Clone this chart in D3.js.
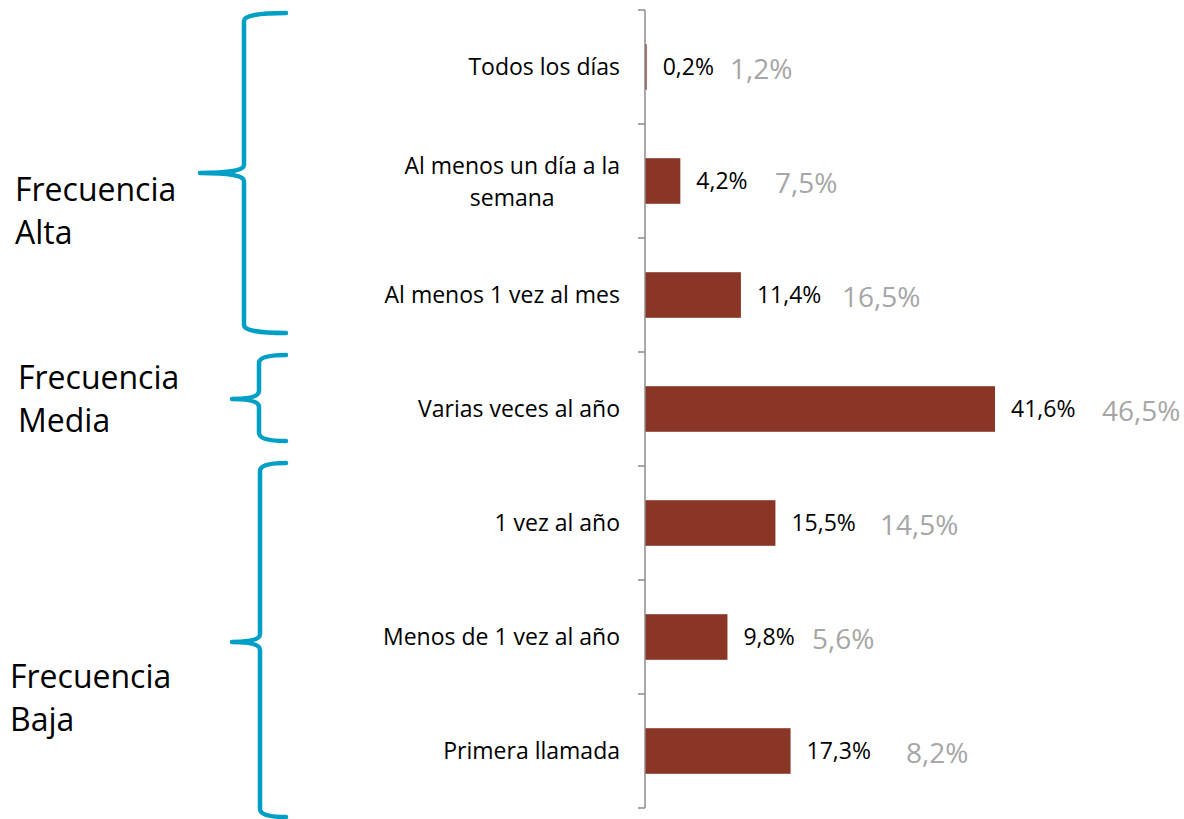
<!DOCTYPE html>
<html><head><meta charset="utf-8">
<script src="https://cdn.jsdelivr.net/npm/d3@7"></script>
<style>body{margin:0;background:#fff}</style>
</head><body>
<script>
const categories = ["Todos los días","Al menos un día a la semana","Al menos 1 vez al mes","Varias veces al año","1 vez al año","Menos de 1 vez al año","Primera llamada"];
const values = [0.2, 4.2, 11.4, 41.6, 15.5, 9.8, 17.3];
const compareValues = [1.2, 7.5, 16.5, 46.5, 14.5, 5.6, 8.2];
const groupLabels = [["Frecuencia","Alta"],["Frecuencia","Media"],["Frecuencia","Baja"]];

// layout (not data)
const compareLabelX = [730, 775, 842, 1102, 880, 812, 906];
const wrapLines = {"Al menos un día a la semana":["Al menos un día a la","semana"]};
const font = "'Open Sans', sans-serif";
const catSize = 23, valSize = 23, cmpSize = 28, grpSize = 32;

const W=1184,H=819;
const svg=d3.select("body").append("svg").attr("width",W).attr("height",H);
const x0=645;
const x=d3.scaleLinear().domain([0,41.6]).range([x0,995]);
const y=d3.scaleBand().domain(categories).range([10,808]).paddingInner(0.6).paddingOuter(0.3);

// bars
svg.selectAll("rect.bar").data(values).join("rect").attr("class","bar")
  .attr("x",x(0)).attr("y",(d,i)=>y(categories[i]))
  .attr("width",d=>x(d)-x(0)).attr("height",y.bandwidth())
  .attr("fill","#893626");

// axis
const ag=svg.append("g").attr("transform",`translate(${x0},0)`);
ag.append("line").attr("x1",0).attr("x2",0).attr("y1",10).attr("y2",808).attr("stroke","#8c8c8c").attr("stroke-width",1.5);
d3.range(categories.length+1).forEach(i=>{
  const yy=10+i*(798/categories.length);
  ag.append("line").attr("x1",-7).attr("x2",0).attr("y1",yy).attr("y2",yy).attr("stroke","#8c8c8c").attr("stroke-width",1.5);
});

// category labels
categories.forEach((c,i)=>{
  const cy=y(c)+y.bandwidth()/2;
  const lines=wrapLines[c]||[c];
  const t=svg.append("text").attr("font-family",font).attr("font-size",catSize).attr("fill","#000");
  if(lines.length===1){
    t.attr("x",620).attr("y",cy).attr("dy","0.35em").attr("text-anchor","end").text(c);
  } else {
    t.attr("text-anchor","middle");
    const tmp=svg.append("text").attr("font-family",font).attr("font-size",catSize).text(lines[0]);
    const w=tmp.node().getComputedTextLength(); tmp.remove();
    const cx=620-w/2;
    lines.forEach((l,k)=>{
      t.append("tspan").attr("x",cx).attr("y",cy+1+(k-(lines.length-1)/2)*32).attr("dy","0.35em").text(l);
    });
  }
});

// value labels
const fmt=d=>d3.format(".1f")(d).replace(".",",")+"%";
svg.selectAll("text.val").data(values).join("text").attr("class","val")
  .attr("x",d=>x(d)+16).attr("y",(d,i)=>y(categories[i])+y.bandwidth()/2).attr("dy","0.35em")
  .attr("font-family",font).attr("font-size",valSize).attr("fill","#000")
  .text(fmt);
svg.selectAll("text.cmp").data(compareValues).join("text").attr("class","cmp")
  .attr("x",(d,i)=>compareLabelX[i]).attr("y",(d,i)=>y(categories[i])+y.bandwidth()/2+2).attr("dy","0.35em")
  .attr("font-family",font).attr("font-size",cmpSize).attr("fill","#a6a6a6")
  .text(fmt);

// braces
const braceGeom=[{top:13,bot:333,vx:244,tipx:200,mid:173},{top:355,bot:441,vx:259,tipx:232,mid:399},{top:463,bot:817,vx:260,tipx:232,mid:642}];
braceGeom.forEach(b=>{
  const r=286;
  const p=d3.path();
  p.moveTo(r,b.top);
  p.quadraticCurveTo(b.vx,b.top,b.vx,b.top+8);
  p.lineTo(b.vx,b.mid-8);
  p.quadraticCurveTo(b.vx,b.mid,b.tipx,b.mid);
  p.quadraticCurveTo(b.vx,b.mid,b.vx,b.mid+8);
  p.lineTo(b.vx,b.bot-8);
  p.quadraticCurveTo(b.vx,b.bot,r,b.bot);
  svg.append("path").attr("d",p.toString()).attr("fill","none").attr("stroke","#00a0c6").attr("stroke-width",4.5).attr("stroke-linecap","round").attr("stroke-linejoin","round");
});

// group labels
const groupPos=[{x:15,y:190},{x:18,y:378},{x:10,y:677}];
groupLabels.forEach((g,i)=>{
  const t=svg.append("text").attr("font-family",font).attr("font-size",grpSize).attr("fill","#000");
  g.forEach((l,k)=>t.append("tspan").attr("x",groupPos[i].x).attr("y",groupPos[i].y+k*43).attr("dy","0.35em").text(l));
});
</script>
</body></html>
